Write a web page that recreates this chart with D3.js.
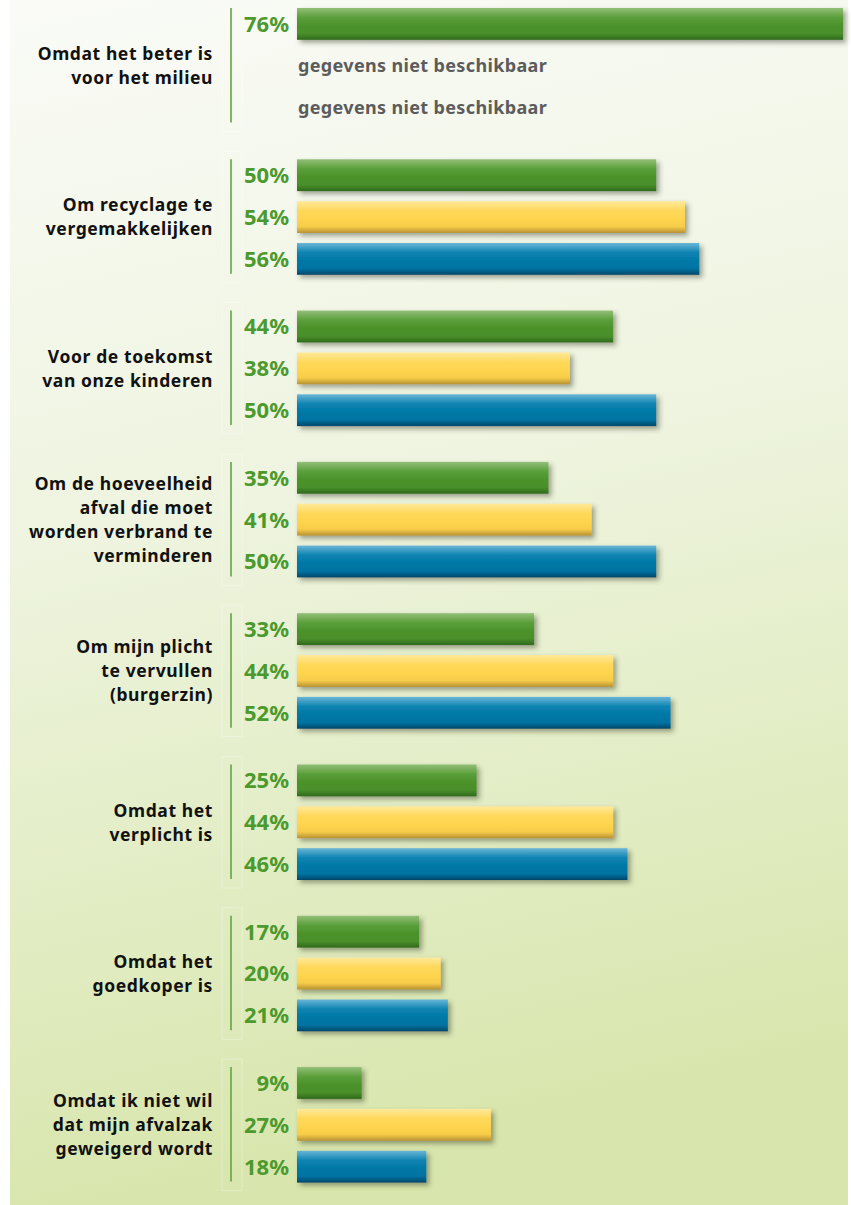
<!DOCTYPE html>
<html>
<head>
<meta charset="utf-8">
<script src="https://cdn.jsdelivr.net/npm/d3@7"></script>
<style>
  html, body { margin: 0; padding: 0; background: #fff; }
  svg { display: block; }
</style>
</head>
<body>
<svg id="chart"></svg>
<script>
var categories = [
    ["Omdat het beter is", "voor het milieu"],
    ["Om recyclage te", "vergemakkelijken"],
    ["Voor de toekomst", "van onze kinderen"],
    ["Om de hoeveelheid", "afval die moet", "worden verbrand te", "verminderen"],
    ["Om mijn plicht", "te vervullen", "(burgerzin)"],
    ["Omdat het", "verplicht is"],
    ["Omdat het", "goedkoper is"],
    ["Omdat ik niet wil", "dat mijn afvalzak", "geweigerd wordt"]
];
var series = ["green", "yellow", "blue"];
var greenValues  = [76, 50, 44, 35, 33, 25, 17, 9];
var yellowValues = [null, 54, 38, 41, 44, 44, 20, 27];
var blueValues   = [null, 56, 50, 50, 52, 46, 21, 18];
var missingText = "gegevens niet beschikbaar";

var width = 851, height = 1205;
var svg = d3.select("#chart").attr("width", width).attr("height", height);
var defs = svg.append("defs");

// background gradient
var bg = defs.append("linearGradient").attr("id", "bg")
    .attr("x1", 0).attr("y1", 0).attr("x2", 0.15).attr("y2", 1);
bg.append("stop").attr("offset", "0%").attr("stop-color", "#fafbf7");
bg.append("stop").attr("offset", "45%").attr("stop-color", "#eef4df");
bg.append("stop").attr("offset", "100%").attr("stop-color", "#d8e6ad");

svg.append("rect").attr("x", 10).attr("y", 0)
    .attr("width", 838).attr("height", height)
    .attr("fill", "url(#bg)");

// bar gradients
var colors = {
    green:  ["#92bf78", "#5a9f3a", "#4c922b", "#4a8f2a", "#2f6a1c"],
    yellow: ["#ffe99a", "#ffd85a", "#ffd54f", "#f7cc48", "#b89233"],
    blue:   ["#6ab6d6", "#0e84b2", "#0078a6", "#0074a2", "#00476a"]
};
series.forEach(function(s) {
    var g = defs.append("linearGradient").attr("id", "g-" + s)
        .attr("x1", 0).attr("y1", 0).attr("x2", 0).attr("y2", 1);
    var offs = ["0%", "30%", "55%", "80%", "100%"];
    colors[s].forEach(function(c, i) {
        g.append("stop").attr("offset", offs[i]).attr("stop-color", c);
    });
});

var shadow = defs.append("filter").attr("id", "shadow")
    .attr("x", "-5%").attr("y", "-30%").attr("width", "115%").attr("height", "180%");
shadow.append("feDropShadow").attr("dx", 3).attr("dy", 3)
    .attr("stdDeviation", 2.5).attr("flood-color", "#303820").attr("flood-opacity", 0.45);

var x = d3.scaleLinear().domain([0, 76]).range([297, 843]);

var groupY = d3.scaleBand()
    .domain(d3.range(categories.length))
    .range([-10, 1200.4]);

var barY = d3.scaleBand()
    .domain(series)
    .range([18, 133.5])
    .paddingInner(0.24);

var valuesBySeries = { green: greenValues, yellow: yellowValues, blue: blueValues };

var groups = svg.selectAll(".group")
    .data(categories)
    .enter().append("g")
    .attr("class", "group")
    .attr("transform", function(d, i) { return "translate(0," + groupY(i) + ")"; });

// faint panels
groups.append("rect")
    .attr("x", 222).attr("y", barY("green") - 8)
    .attr("width", 20).attr("height", barY("blue") + barY.bandwidth() - barY("green") + 16)
    .attr("fill", "none").attr("stroke", "#ffffff").attr("stroke-opacity", 0.3);

// vertical divider
groups.append("line")
    .attr("x1", 231).attr("x2", 231)
    .attr("y1", barY("green"))
    .attr("y2", barY("blue") + barY.bandwidth() - 1)
    .attr("stroke", "#62a443").attr("stroke-width", 1.6);

// category labels
groups.each(function(lines) {
    var mid = barY("yellow") + barY.bandwidth() / 2;
    var lh = 24;
    var t = d3.select(this).append("text")
        .attr("text-anchor", "end")
        .attr("font-family", "'Noto Sans', sans-serif")
        .attr("font-weight", "bold")
        .attr("font-size", 17.5)
        .attr("letter-spacing", 0.6)
        .attr("fill", "#111");
    lines.forEach(function(line, k) {
        t.append("tspan")
            .attr("x", 213)
            .attr("y", mid + (k - (lines.length - 1) / 2) * lh)
            .attr("dy", "0.36em")
            .text(line);
    });
});

// bars + value labels
series.forEach(function(s) {
    var vals = valuesBySeries[s];
    groups.each(function(d, i) {
        var g = d3.select(this);
        var v = vals[i];
        var yy = barY(s);
        var cy = yy + barY.bandwidth() / 2;
        if (v == null) {
            g.append("text")
                .attr("x", 298).attr("y", cy).attr("dy", "0.36em")
                .attr("font-family", "'Noto Sans', sans-serif")
                .attr("font-weight", "bold")
                .attr("font-size", 18)
                .attr("letter-spacing", 0.35)
                .attr("fill", "#5c5c5c")
                .text(missingText);
            return;
        }
        g.append("rect")
            .attr("x", x(0)).attr("y", yy)
            .attr("width", x(v) - x(0))
            .attr("height", barY.bandwidth())
            .attr("fill", "url(#g-" + s + ")")
            .attr("filter", "url(#shadow)");
        g.append("text")
            .attr("x", 289).attr("y", cy).attr("dy", "0.36em")
            .attr("text-anchor", "end")
            .attr("font-family", "'Noto Sans', sans-serif")
            .attr("font-weight", "bold")
            .attr("font-size", 22)
            .attr("fill", "#4c9a2d")
            .text(v + "%");
    });
});
</script>
</body>
</html>
